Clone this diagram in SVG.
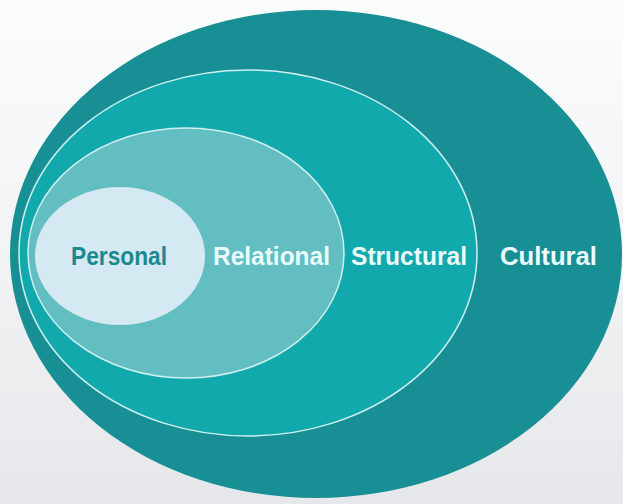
<svg xmlns="http://www.w3.org/2000/svg" width="623" height="504" viewBox="0 0 623 504">
  <defs>
    <linearGradient id="bg" x1="0" y1="0" x2="0" y2="1">
      <stop offset="0" stop-color="#fbfcfc"/>
      <stop offset="0.5" stop-color="#f2f3f4"/>
      <stop offset="1" stop-color="#e6e7ea"/>
    </linearGradient>
  </defs>
  <style>
    .ring { stroke: #cfeff0; stroke-width: 1.5; }
    .lbl { font-family: "Liberation Sans", Arial, sans-serif; font-weight: bold; font-size: 25px; }
    .light { fill: #eafbfb; }
    .dark { fill: #1b8a90; }
  </style>
  <rect x="0" y="0" width="623" height="504" fill="url(#bg)"/>
  <g id="cultural">
    <ellipse cx="316" cy="254" rx="306" ry="244" fill="#178f95"/>
    <text class="lbl light" x="500" y="265" textLength="97" lengthAdjust="spacingAndGlyphs">Cultural</text>
  </g>
  <g id="structural">
    <ellipse class="ring" cx="248" cy="253" rx="229" ry="183" fill="#12a9ad"/>
    <text class="lbl light" x="351" y="265" textLength="116" lengthAdjust="spacingAndGlyphs">Structural</text>
  </g>
  <g id="relational">
    <ellipse class="ring" cx="186" cy="253" rx="158" ry="125" fill="#62bec1"/>
    <text class="lbl light" x="213" y="265" textLength="117" lengthAdjust="spacingAndGlyphs">Relational</text>
  </g>
  <g id="personal">
    <ellipse cx="120" cy="256" rx="85" ry="69" fill="#d4e9f1"/>
    <text class="lbl dark" x="71" y="265" textLength="96" lengthAdjust="spacingAndGlyphs">Personal</text>
  </g>
  <g id="connectors"/>
</svg>
